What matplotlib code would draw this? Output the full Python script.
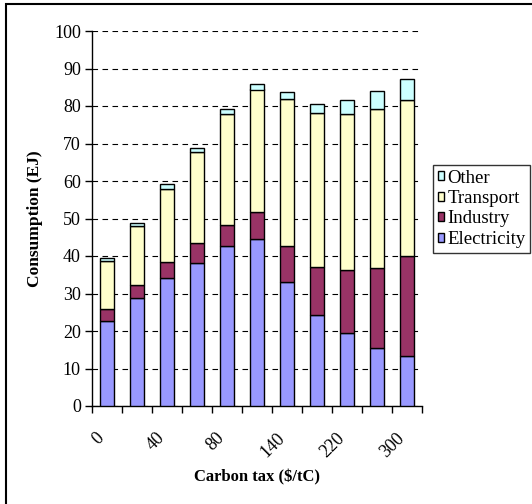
import matplotlib
matplotlib.use("Agg")
import matplotlib.pyplot as plt
from matplotlib.patches import Rectangle
from matplotlib.transforms import ScaledTranslation
import numpy as np

plt.rcParams['font.family'] = ['Liberation Serif', 'DejaVu Serif']

# carbon tax levels ($/tC); only every other one is labelled in the chart
tax_labels = ["0", "20", "40", "60", "80", "110", "140", "180", "220", "260", "300"]

# consumption by sector (EJ), stacked bottom to top
electricity = [22.8, 28.7, 34.1, 38.1, 42.6, 44.6, 33.2, 24.4, 19.4, 15.4, 13.4]
industry = [3.0, 3.6, 4.3, 5.4, 5.8, 7.1, 9.4, 12.6, 16.8, 21.3, 26.6]
transport = [13.0, 15.6, 19.5, 24.2, 29.5, 32.7, 39.2, 41.2, 41.7, 42.4, 41.5]
other = [0.6, 0.9, 1.2, 1.2, 1.4, 1.5, 1.8, 2.4, 3.6, 5.0, 5.6]

series = [("Electricity", electricity, "#9999FF"),
          ("Industry", industry, "#993366"),
          ("Transport", transport, "#FFFFCC"),
          ("Other", other, "#CCFFFF")]

fig = plt.figure(figsize=(5.32, 5.04), dpi=100)
ax = fig.add_axes([92 / 532, 1 - 406 / 504, 330 / 532, 375 / 504])

x = np.arange(len(tax_labels))
bottom = np.zeros(len(x))
handles = []
for name, vals, col in series:
    b = ax.bar(x, vals, 0.44, bottom=bottom, color=col, edgecolor="black",
               linewidth=1.0, label=name, zorder=3)
    handles.append(b)
    bottom += np.array(vals)

ax.set_xlim(-0.5, len(x) - 0.5)
ax.set_ylim(0, 100)
ax.set_yticks(np.arange(0, 101, 10))
ax.tick_params(axis="y", direction="out", length=5, width=1, labelsize=13, pad=3)
ax.yaxis.grid(True, color="black", linestyle=(0, (5, 4)), linewidth=0.8, zorder=0)
ax.set_axisbelow(True)

# category boundary tick marks, labels at every other bar
ax.set_xticks(np.arange(-0.5, len(x), 1.0), minor=True)
ax.tick_params(axis="x", which="minor", direction="out", length=5, width=1)
ax.set_xticks(x[::2])
ax.set_xticklabels(tax_labels[::2], rotation=45, ha="right", rotation_mode="anchor",
                   fontsize=13)
ax.tick_params(axis="x", which="major", length=0, pad=17)
shift = ScaledTranslation(-8 / 72, 0, fig.dpi_scale_trans)
for lab in ax.get_xticklabels():
    lab.set_transform(lab.get_transform() + shift)

for s in ["top", "right"]:
    ax.spines[s].set_visible(False)
for s in ["left", "bottom"]:
    ax.spines[s].set_linewidth(1.0)

ax.set_xlabel("Carbon tax ($/tC)", fontsize=12, fontweight="bold", labelpad=6)
ax.set_ylabel("Consumption (EJ)", fontsize=12.5, fontweight="bold", labelpad=8)

leg = fig.legend(handles[::-1], [h.get_label() for h in handles[::-1]],
                 loc="upper left", bbox_to_anchor=(433 / 532, 1 - 165 / 504),
                 fontsize=13.5, frameon=True, fancybox=False, handlelength=0.36,
                 handleheight=0.36, handletextpad=0.15, labelspacing=0.18,
                 borderpad=0.25, borderaxespad=0)
leg.get_frame().set_edgecolor("black")
leg.get_frame().set_linewidth(1.0)

# outer chart border (right and bottom lie outside the picture)
fig.patches.append(Rectangle((6 / 532, -0.05), 1.2, 1 - 4 / 504 + 0.05,
                             transform=fig.transFigure, fill=False,
                             edgecolor="black", linewidth=1.5))

fig.savefig("out.png", dpi=100)
